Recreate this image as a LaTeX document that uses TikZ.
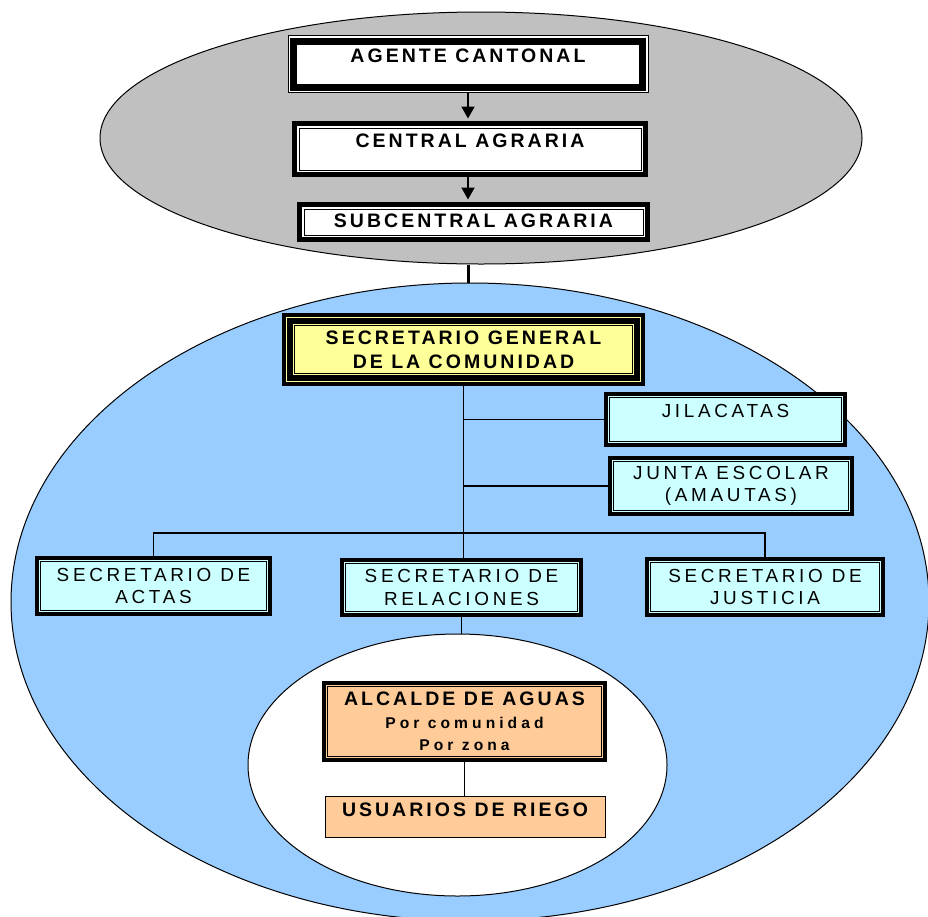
\documentclass[tikz,border=0pt]{standalone}
\usepackage{fontspec}
\setmainfont{Liberation Sans}
\usetikzlibrary{arrows.meta,shapes.geometric}
\definecolor{grisfondo}{HTML}{C0C0C0}
\definecolor{azulfondo}{HTML}{99CCFF}
\definecolor{celeste}{HTML}{CCFFFF}
\definecolor{amarillo}{HTML}{FFFF99}
\definecolor{naranja}{HTML}{FFCC99}
\newcommand{\boldlbl}{\fontsize{19.5}{24}\selectfont\bfseries\addfontfeature{LetterSpace=15.5}}
\newcommand{\plainlbl}{\fontsize{18.9}{22.5}\selectfont\addfontfeature{LetterSpace=19.5}}
\newcommand{\smalllbl}{\fontsize{15.6}{22.5}\selectfont\bfseries\addfontfeature{LetterSpace=26}}
\newcommand{\inframe}[2]{\draw[line width=#2] ([shift={(#1,-#1)}]path picture bounding box.north west)
  rectangle ([shift={(-#1,#1)}]path picture bounding box.south east);}

\begin{document}
\begin{tikzpicture}[x=1pt,y=-1pt,
zona/.style={ellipse,draw,line width=1pt,inner sep=0pt},
box/.style={rectangle,inner sep=0pt,align=center},
agente/.style={box,draw,line width=1pt,fill=white,font=\boldlbl,path picture={\inframe{5.5pt}{7pt}}},
agbox/.style={box,draw,line width=5pt,fill=white,font=\boldlbl,path picture={\inframe{4.5pt}{0.9pt}}},
genbox/.style={box,draw,line width=4pt,fill=amarillo,font=\boldlbl,path picture={\inframe{6pt}{6pt}\inframe{10.5pt}{1pt}}},
secbox/.style={box,draw,line width=4pt,fill=celeste,font=\plainlbl,path picture={\inframe{3.8pt}{0.9pt}}},
aguabox/.style={box,draw,line width=4pt,fill=naranja,font=\smalllbl,path picture={\inframe{3.8pt}{0.9pt}}},
usubox/.style={box,draw,line width=1pt,fill=naranja,font=\boldlbl},
arr/.style={-{Triangle[width=13pt,length=12pt]},line width=2pt,shorten >=2.5pt},
link/.style={line width=1.2pt}]
\useasboundingbox (0,0) rectangle (928,916);
% fondos
\node[zona,fill=grisfondo,minimum width=762pt,minimum height=252pt] (canton) at (481,138) {};
\node[zona,fill=azulfondo,minimum width=918pt,minimum height=638pt] (comunidad) at (470,602) {};
\node[zona,fill=white,minimum width=419pt,minimum height=262pt] (riego) at (457.5,765) {};
% autoridades
\node[agente,minimum width=360pt,text height=26.5pt,text depth=30.5pt] (agente) at (468,64) {AGENTE CANTONAL};
\node[agbox,minimum width=351pt,text height=23.5pt,text depth=27.5pt] (central) at (470,149) {CENTRAL AGRARIA};
\node[agbox,minimum width=348pt,text height=22.5pt,text depth=12.5pt] (subcentral) at (473.5,222) {SUBCENTRAL AGRARIA};
\node[genbox,minimum width=359pt,minimum height=69pt] (general) at (463.5,349.5) {SECRETARIO GENERAL\\DE LA COMUNIDAD};
\node[secbox,minimum width=239pt,text height=23pt,text depth=28pt] (jilacatas) at (725.5,419.5) {JILACATAS};
\node[secbox,minimum width=242pt,minimum height=56pt] (junta) at (731,486) {JUNTA ESCOLAR\\(AMAUTAS)};
\node[secbox,minimum width=233pt,minimum height=56pt] (actas) at (153.5,586) {SECRETARIO DE\\ACTAS};
\node[secbox,minimum width=239pt,minimum height=55pt] (relaciones) at (461.5,587.5) {SECRETARIO DE\\RELACIONES};
\node[secbox,minimum width=236pt,minimum height=56pt] (justicia) at (765,587) {SECRETARIO DE\\JUSTICIA};
\node[aguabox,minimum width=281pt,minimum height=77pt] (alcalde) at (464.5,721.5) {{\boldlbl ALCALDE DE AGUAS}\\Por comunidad\\Por zona};
\node[usubox,minimum width=280pt,text height=19.5pt,text depth=21.5pt] (usuarios) at (465,817) {USUARIOS DE RIEGO};
% conexiones
\draw[arr] (agente.south) -- (agente.south |- central.north);
\draw[arr] (central.south -| agente.south) -- (agente.south |- subcentral.north);
\draw[line width=3pt] (canton.south -| agente.south) -- (comunidad.north -| agente.south);
\draw[link] (general.south) -- (general.south |- relaciones.north);
\draw[link] (general.south |- jilacatas.west) -- (jilacatas.west);
\draw[link] (general.south |- junta.west) -- (junta.west);
\coordinate (barra) at (463,533);
\draw[link] (actas.north) |- (barra) -| (justicia.north);
\draw[link] (relaciones.south) -- (relaciones.south |- riego.north);
\draw[link] (alcalde.south) -- (alcalde.south |- usuarios.north);
\end{tikzpicture}
\end{document}
